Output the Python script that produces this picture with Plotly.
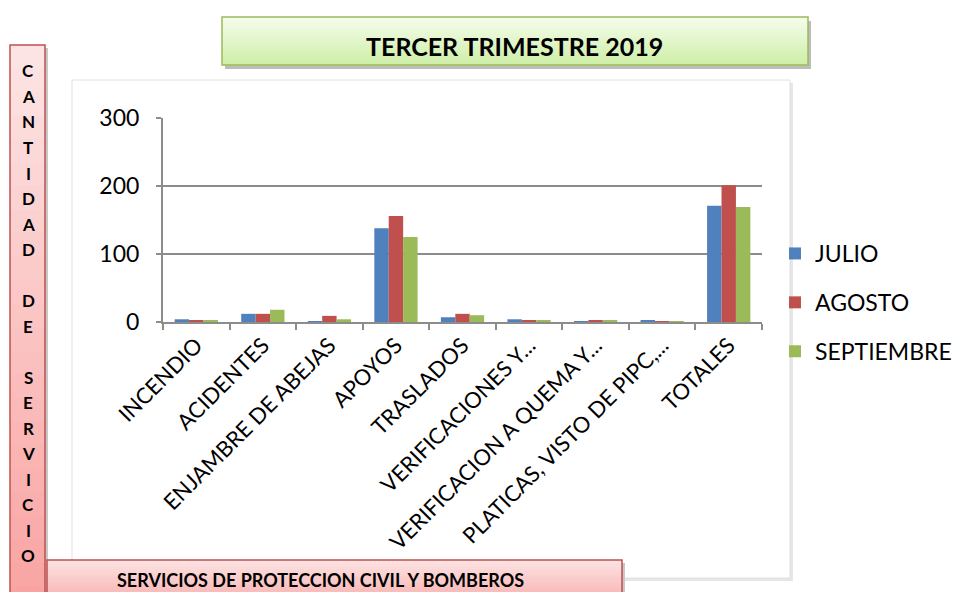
import plotly.graph_objects as go

categories = ["INCENDIO", "ACIDENTES", "ENJAMBRE DE ABEJAS", "APOYOS", "TRASLADOS",
              "VERIFICACIONES Y...", "VERIFICACION A QUEMA Y...", "PLATICAS, VISTO DE PIPC,...", "TOTALES"]
julio = [4, 12, 1, 138, 7, 4, 1, 2, 171]
agosto = [2, 12, 9, 156, 12, 2, 2, 1, 201]
septiembre = [3, 18, 4, 125, 10, 3, 3, 1, 169]
series_names = ["JULIO", "AGOSTO", "SEPTIEMBRE"]
colors = ["#4F81BD", "#C0504D", "#9BBB59"]
y_ticks = [0, 100, 200, 300]
title_text = "TERCER TRIMESTRE 2019"
bottom_text = "SERVICIOS DE PROTECCION CIVIL Y BOMBEROS"
side_letters = list("CANTIDAD") + [""] + list("DE") + [""] + list("SERVICIO")

W, H = 973, 592
OFF = 8  # page body margin
FONT = "Lato"

def px(x):
    return (x - OFF) / W

def py(y):
    return 1 - (y - OFF) / H

fig = go.Figure()
for name, vals, col in zip(series_names, [julio, agosto, septiembre], colors):
    fig.add_trace(go.Bar(
        x=categories, y=vals, name=name, legendgroup=name,
        marker=dict(color=col, line=dict(color=col, width=0)),
    ))

shapes = []
shapes.append(dict(type="rect", xref="paper", yref="paper", x0=px(75), x1=px(793), y0=py(581), y1=py(83),
                   fillcolor="#e6e6e6", line=dict(width=0), layer="below"))
shapes.append(dict(type="rect", xref="paper", yref="paper", x0=px(72), x1=px(790), y0=py(578), y1=py(80),
                   fillcolor="white", line=dict(color="#e0e0e0", width=1), layer="below"))

def grad_rect(x0, x1, y0, y1, c_top, c_bot, border, n=24):
    res = []
    def mix(a, b, t):
        return "#%02x%02x%02x" % tuple(int(a[i] + (b[i] - a[i]) * t) for i in range(3))
    def hx(c):
        return tuple(int(c[i:i + 2], 16) for i in (1, 3, 5))
    a, b = hx(c_top), hx(c_bot)
    h = (y1 - y0) / n
    for i in range(n):
        res.append(dict(type="rect", xref="paper", yref="paper", x0=px(x0), x1=px(x1),
                        y0=py(y0 + h * (i + 1) + 0.5), y1=py(y0 + h * i),
                        fillcolor=mix(a, b, (i + 0.5) / n), line=dict(width=0), layer="above"))
    res.append(dict(type="rect", xref="paper", yref="paper", x0=px(x0), x1=px(x1), y0=py(y1), y1=py(y0),
                    fillcolor="rgba(0,0,0,0)", line=dict(color=border, width=1.5), layer="above"))
    return res

shapes.append(dict(type="rect", xref="paper", yref="paper", x0=px(225), x1=px(811), y0=py(69), y1=py(21),
                   fillcolor="#bdbdbd", line=dict(width=0), layer="above"))
shapes += grad_rect(222, 808, 17, 65, "#F7FDEE", "#CDEFA6", "#9BBB59")
shapes.append(dict(type="rect", xref="paper", yref="paper", x0=px(13), x1=px(48), y0=py(605), y1=py(48),
                   fillcolor="#c8c8c8", line=dict(width=0), layer="above"))
shapes += grad_rect(10, 45, 45, 610, "#FDE6E6", "#F9A3A1", "#C0504D")
shapes.append(dict(type="rect", xref="paper", yref="paper", x0=px(50), x1=px(625), y0=py(610), y1=py(563),
                   fillcolor="#c8c8c8", line=dict(width=0), layer="above"))
shapes += grad_rect(47, 622, 560, 615, "#FDE4E4", "#F7A09E", "#C0504D")

annotations = [
    dict(text="<b>%s</b>" % title_text, xref="paper", yref="paper", x=px(515), y=py(46),
         showarrow=False, font=dict(family=FONT, size=25, color="black"), xanchor="center", yanchor="middle"),
    dict(text="<b>%s</b>" % bottom_text, xref="paper", yref="paper", x=px(320), y=py(580),
         showarrow=False, font=dict(family=FONT, size=18, color="black"), xanchor="center", yanchor="middle"),
]
y0_letter, step = 71, 25.5
for i, ch in enumerate(side_letters):
    if ch:
        annotations.append(dict(text="<b>%s</b>" % ch, xref="paper", yref="paper", x=px(28),
                                y=py(y0_letter + i * step), showarrow=False,
                                font=dict(family=FONT, size=17, color="black"),
                                xanchor="center", yanchor="middle"))

fig.update_layout(
    template="none",
    width=W, height=H,
    margin=dict(l=0, r=0, t=0, b=0, pad=0, autoexpand=False),
    paper_bgcolor="white", plot_bgcolor="rgba(0,0,0,0)",
    font=dict(family=FONT, color="black"),
    barmode="group", bargap=0.35, bargroupgap=0.0,
    showlegend=True,
    legend=dict(x=px(775), y=py(232), xanchor="left", yanchor="top",
                font=dict(family=FONT, size=23, color="black"),
                traceorder="grouped", tracegroupgap=16, bgcolor="rgba(0,0,0,0)"),
    xaxis=dict(domain=[px(163), px(762)], tickangle=-45, tickfont=dict(family=FONT, size=22),
               automargin=False,
               showline=True, linecolor="#8c8c8c", linewidth=2, ticks="outside", tickson="boundaries",
               ticklen=6, tickcolor="#8c8c8c", tickwidth=1.5, showgrid=False),
    yaxis=dict(domain=[py(322), py(118)], range=[0, 300], tickvals=y_ticks, automargin=False,
               tickfont=dict(family=FONT, size=23), showline=True, linecolor="#8c8c8c", linewidth=2,
               ticks="outside", ticklen=5, tickcolor="#8c8c8c", tickwidth=1.5,
               showgrid=True, gridcolor="#8c8c8c", gridwidth=2, zeroline=False,
               ticklabelstandoff=12),
    shapes=shapes, annotations=annotations,
)

fig.write_html("out.html")
